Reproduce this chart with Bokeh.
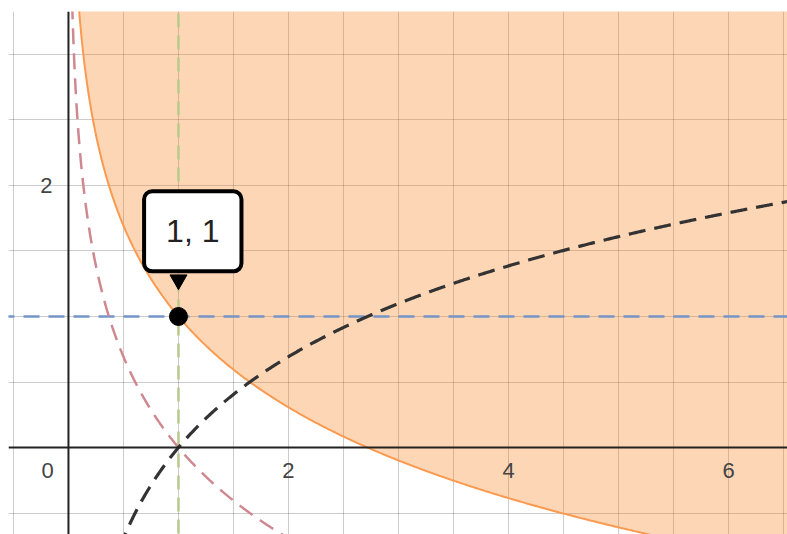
import numpy as np
from bokeh.plotting import figure
from bokeh.models import Label, Span, Grid, SingleIntervalTicker
from bokeh.core.properties import value
from bokeh.embed import file_html
from bokeh.resources import INLINE

# ranges of the graph view
x_min, x_max = -0.545, 6.536
y_min, y_max = -0.664, 3.328

# functions shown: y = ln x (black), y = -ln x (pink), boundary y = 1 - ln x (shaded above)
xs = np.linspace(0.005, 6.6, 800)
ln_vals = np.log(xs)
neg_ln_vals = -np.log(xs)
boundary_vals = 1 - np.log(xs)

# marked point
pt_x = [1]
pt_y = [1]
pt_label = "1, 1"

# tick labels
xtick_vals = [2, 4, 6]
xtick_text = ["2", "4", "6"]
ytick_vals = [2]
ytick_text = ["2"]

p = figure(width=787, height=534, x_range=(x_min, x_max), y_range=(y_min, y_max),
           output_backend="svg", toolbar_location=None,
           x_axis_location=None, y_axis_location=None,
           min_border_left=8, min_border_right=0, min_border_top=11, min_border_bottom=0)
p.outline_line_color = None
p.background_fill_color = "white"
p.border_fill_color = "white"
for g in list(p.center):
    if isinstance(g, Grid):
        p.center.remove(g)

p.add_layout(Grid(dimension=0, ticker=SingleIntervalTicker(interval=0.5),
                  grid_line_color="#000000", grid_line_alpha=0.2, grid_line_width=1))
p.add_layout(Grid(dimension=1, ticker=SingleIntervalTicker(interval=0.5),
                  grid_line_color="#000000", grid_line_alpha=0.2, grid_line_width=1))

# shaded region y >= 1 - ln x
top = np.full_like(xs, y_max + 1)
lower = np.minimum(boundary_vals, y_max + 1)
p.varea(x=xs, y1=lower, y2=top, fill_color="#fa7e19", fill_alpha=0.32)

# axes lines
p.add_layout(Span(location=0, dimension="width", line_color="#222222", line_width=2, level="glyph"))
p.add_layout(Span(location=0, dimension="height", line_color="#222222", line_width=2, level="glyph"))

# boundary
p.line(xs, boundary_vals, line_color="#fa9a50", line_width=2)

# reference dashed lines x = 1 and y = 1
p.segment(x0=pt_x, y0=[y_min - 1], x1=pt_x, y1=[y_max + 1],
          line_color="#b8c98c", line_width=2.5, line_dash="14 8")
p.segment(x0=[x_min - 1], y0=pt_y, x1=[x_max + 1], y1=pt_y,
          line_color="#7595c8", line_width=2.5, line_dash="16 9")

# curves
p.line(xs, neg_ln_vals, line_color="#d08890", line_width=2.5, line_dash="16 9")
p.line(xs, ln_vals, line_color="#333333", line_width=3.2, line_dash="17 9")

# point
p.scatter(pt_x, pt_y, size=18, color="black")

# tooltip pointer and box
p.scatter([pt_x[0]], [pt_y[0] + 0.28], marker="inverted_triangle", size=17, color="black")
p.add_layout(Label(x=pt_x[0] + 0.13, y=pt_y[0] + 0.65, text=pt_label,
                   text_font="Liberation Sans", text_font_size="32px", text_color="#222222",
                   text_align="center", text_baseline="middle",
                   background_fill_color="white", border_line_color="black", border_line_width=4,
                   padding=22, border_radius=8))

# tick labels
lab_style = dict(text_font=value("Liberation Sans"), text_font_size="22px", text_color="#444444",
                 text_align="center", text_baseline="middle")
p.text(x=xtick_vals, y=[-0.176] * len(xtick_vals), text=xtick_text, **lab_style)
p.text(x=[-0.19], y=[-0.176], text=["0"], **lab_style)
p.text(x=[-0.2] * len(ytick_vals), y=ytick_vals, text=ytick_text, **lab_style)

open("out.html", "w").write(file_html(p, INLINE))
